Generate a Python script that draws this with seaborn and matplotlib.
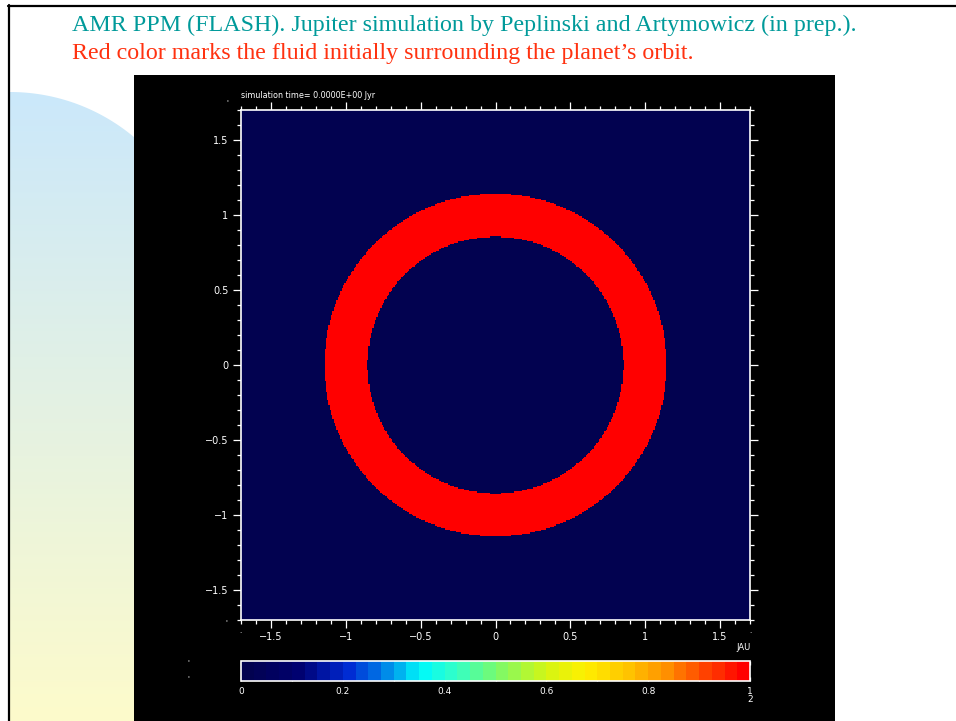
import numpy as np
import pandas as pd
import seaborn as sns
import matplotlib
matplotlib.use("Agg")
import matplotlib.pyplot as plt
from matplotlib.colors import LinearSegmentedColormap, ListedColormap
from matplotlib.patches import Rectangle, PathPatch
from matplotlib.path import Path
from matplotlib.lines import Line2D

# ---------------- data ----------------
title_line1 = "AMR PPM (FLASH). Jupiter simulation by Peplinski and Artymowicz (in prep.)."
title_line2 = "Red color marks the fluid initially surrounding the planet\u2019s orbit."
sim_label = "simulation time= 0.0000E+00 Jyr"
unit_label = "JAU"

domain_half = 1.7          # plotted range [-1.7, 1.7] (AU)
ring_inner = 0.855         # inner radius of marked fluid
ring_outer = 1.143         # outer radius of marked fluid
ring_value = 1.0           # tracer inside ring
background_value = 0.0     # tracer elsewhere
grid_cells = 384

axis_ticks = [-1.5, -1.0, -0.5, 0.0, 0.5, 1.0, 1.5]
axis_tick_labels = ["\u22121.5", "\u22121", "\u22120.5", "0", "0.5", "1", "1.5"]
cbar_ticks = [0.0, 0.2, 0.4, 0.6, 0.8, 1.0]
cbar_tick_labels = ["0", "0.2", "0.4", "0.6", "0.8", "1"]

# ---------------- field ----------------
centers = np.linspace(-domain_half, domain_half, grid_cells + 1)
centers = 0.5 * (centers[:-1] + centers[1:])
X, Y = np.meshgrid(centers, centers[::-1])   # row 0 at top (y = +1.7)
R = np.hypot(X, Y)
field = np.where((R >= ring_inner) & (R <= ring_outer), ring_value, background_value)
df = pd.DataFrame(field)

# colour table (IDL-like rainbow, stepped)
nodes = [
    (0.00, (2, 2, 80)), (0.10, (0, 0, 110)), (0.20, (0, 40, 210)),
    (0.27, (0, 120, 230)), (0.35, (0, 250, 250)), (0.42, (50, 255, 200)),
    (0.50, (120, 250, 110)), (0.60, (210, 245, 20)), (0.68, (255, 240, 0)),
    (0.76, (255, 200, 0)), (0.84, (255, 150, 0)), (0.92, (255, 70, 0)),
    (1.00, (255, 0, 0)),
]
smooth = LinearSegmentedColormap.from_list(
    "idl", [(p, tuple(c / 255 for c in rgb)) for p, rgb in nodes])
cmap = ListedColormap(smooth(np.linspace(0, 1, 40)))

# ---------------- figure ----------------
sns.set_theme(style="white")
plt.rcParams["font.family"] = ["DejaVu Sans"]
W, H = 956, 721
fig = plt.figure(figsize=(W / 100, H / 100), dpi=100, facecolor="white")

# slide background (pixel coordinates)
bg = fig.add_axes([0, 0, 1, 1], zorder=0)
bg.set_xlim(0, W)
bg.set_ylim(H, 0)
bg.axis("off")
cx, cy, rad = 10, 285, 193
t = np.linspace(0, np.pi / 2, 80)
verts = [(cx, H)] + [(cx + rad * np.sin(a), cy - rad * np.cos(a)) for a in t] + [(cx + rad, H), (cx, H)]
clip = Path(verts, [Path.MOVETO] + [Path.LINETO] * (len(verts) - 2) + [Path.CLOSEPOLY])
grad = np.linspace(0, 1, 256).reshape(-1, 1)
gcm = LinearSegmentedColormap.from_list("g", ["#cbe8fb", "#fdfbcb"])
im = bg.imshow(grad, cmap=gcm, extent=[cx, cx + rad, H, cy - rad], aspect="auto")
pp = PathPatch(clip, transform=bg.transData, facecolor="none", edgecolor="none")
bg.add_patch(pp)
im.set_clip_path(pp)
bg.add_line(Line2D([8, W], [5.5, 5.5], color="black", lw=1.6))
bg.add_line(Line2D([9, 9], [5, H], color="black", lw=1.6))
bg.add_patch(Rectangle((134, 75), 701, H - 75, facecolor="black", edgecolor="none"))

fig.text(72 / W, 1 - 31 / H, title_line1, family="Liberation Serif", fontsize=17.3,
         color="#009a9a", va="baseline", ha="left")
fig.text(72 / W, 1 - 59 / H, title_line2, family="Liberation Serif", fontsize=17.3,
         color="#ff3210", va="baseline", ha="left")

# main panel
ax = fig.add_axes([241 / W, 1 - 620 / H, 509 / W, 510 / H], zorder=2)
cax = fig.add_axes([241 / W, 1 - 681 / H, 509 / W, 20 / H], zorder=2)
sns.heatmap(df, ax=ax, cmap=cmap, vmin=0, vmax=1, cbar=True, cbar_ax=cax,
            cbar_kws={"orientation": "horizontal"},
            xticklabels=False, yticklabels=False, rasterized=True)

def to_x(v):
    return (v + domain_half) / (2 * domain_half) * grid_cells

def to_y(v):
    return (domain_half - v) / (2 * domain_half) * grid_cells

minor_vals = np.round(np.arange(-1.7, 1.71, 0.1), 2)
ax.set_xticks([to_x(v) for v in axis_ticks])
ax.set_xticklabels(axis_tick_labels)
ax.set_yticks([to_y(v) for v in axis_ticks])
ax.set_yticklabels(axis_tick_labels)
ax.set_xticks([to_x(v) for v in minor_vals], minor=True)
ax.set_yticks([to_y(v) for v in minor_vals], minor=True)
for s in ax.spines.values():
    s.set_visible(True)
    s.set_color("white")
    s.set_linewidth(1.2)
ax.tick_params(which="both", direction="out", colors="white", top=True, right=True,
               bottom=True, left=True, labeltop=False, labelright=False, width=0.9)
ax.tick_params(which="major", length=6, labelsize=7, pad=3, labelcolor="white")
ax.tick_params(which="minor", length=3)
ax.set_xlabel("")
ax.set_ylabel("")

# colour bar styling
cb = ax.collections[0].colorbar
cb.outline.set_edgecolor("white")
cb.outline.set_linewidth(1.2)
cax.set_xticks(cbar_ticks)
cax.set_xticklabels(cbar_tick_labels)
cax.set_xticks(np.round(np.arange(0.1, 1.0, 0.2), 2), minor=True)
cax.tick_params(which="both", direction="in", colors="white", length=3, width=0.9,
                top=True, bottom=True, labelsize=6.5, pad=4, labelcolor="white")
fig.text(750 / W, 1 - 700 / H, "2", color="white", fontsize=6.5, ha="center", va="center")

# annotations on black panel
fig.text(241 / W, 1 - 96 / H, sim_label, color="white", fontsize=5.8, ha="left", va="center")
fig.text(751 / W, 1 - 648 / H, unit_label, color="white", fontsize=6, ha="right", va="center")
for (px, py, s) in [(227, 102, "'"), (226, 622, "'"), (240, 631, "."), (750, 631, "."),
                    (188, 662, "'"), (188, 678, "'")]:
    fig.text(px / W, 1 - py / H, s, color="white", fontsize=5, ha="center", va="center")

fig.savefig("out.png", dpi=100, facecolor="white")
